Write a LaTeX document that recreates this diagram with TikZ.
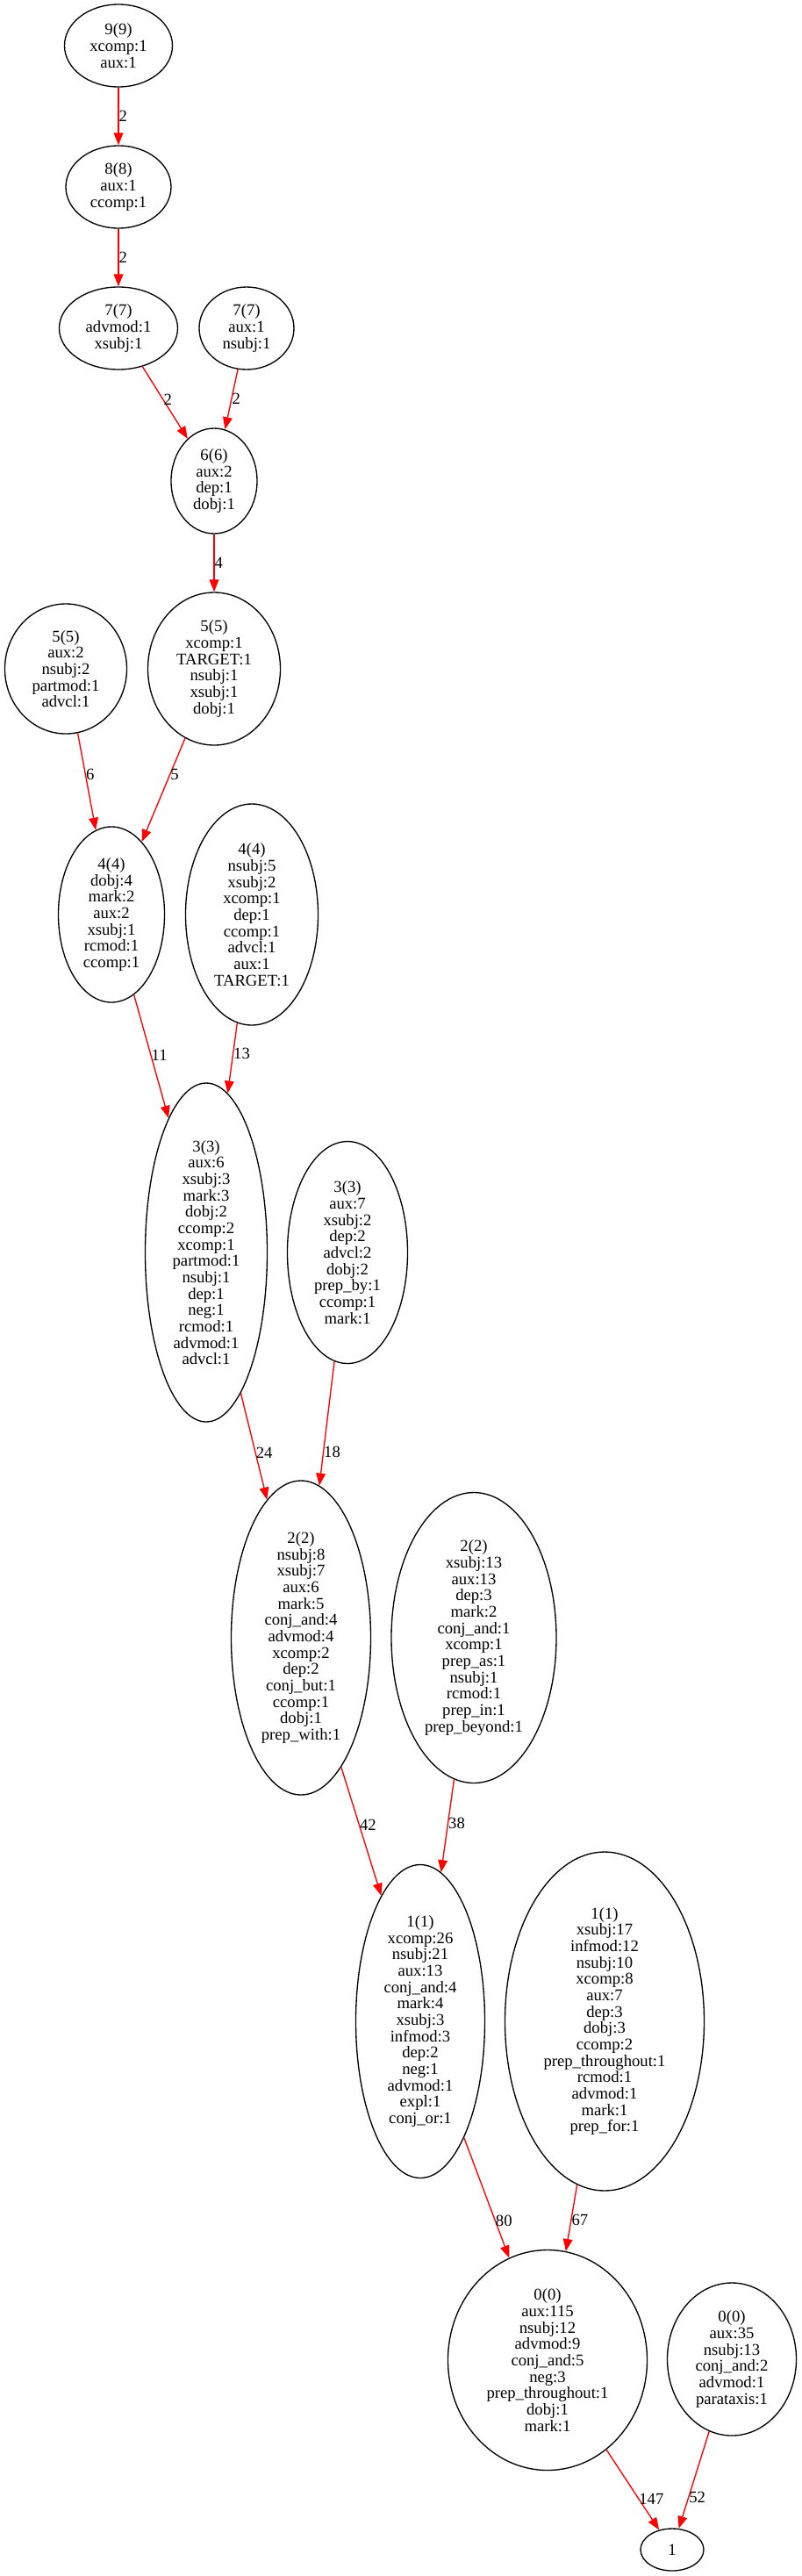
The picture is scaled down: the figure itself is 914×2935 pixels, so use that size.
\documentclass[tikz,border=0pt]{standalone}
\usepackage{fontspec}
\setmainfont{Liberation Serif}
\usetikzlibrary{shapes.geometric,arrows.meta}

\begin{document}
\begin{tikzpicture}[x=0.75pt,y=-0.75pt,
 tally/.style={draw,line width=1pt,ellipse,inner sep=0pt,align=center,font=\fontsize{14}{14}\selectfont},
 link/.style={red,line width=1pt,-{Triangle[length=10.5pt,width=8pt]}},
 wt/.style={anchor=west,inner sep=0pt,text=black,font=\fontsize{14}{14}\selectfont}]
\useasboundingbox (0,0) rectangle (914,2935);
\foreach \name/\x/\y/\w/\h/\txt in {
 n9/135/52/123/94/{9(9)\\xcomp:1\\aux:1},
 n8/135/213/120/94/{8(8)\\aux:1\\ccomp:1},
 n7a/135/374/135/94/{7(7)\\advmod:1\\xsubj:1},
 n7b/281/374/108/94/{7(7)\\aux:1\\nsubj:1},
 n6/244/548/98/120/{6(6)\\aux:2\\dep:1\\dobj:1},
 n5a/75/762/139/148/{5(5)\\aux:2\\nsubj:2\\partmod:1\\advcl:1},
 n5b/244/762/151/174/{5(5)\\xcomp:1\\TARGET:1\\nsubj:1\\xsubj:1\\dobj:1},
 n4a/127/1042/121/200/{4(4)\\dobj:4\\mark:2\\aux:2\\xsubj:1\\rcmod:1\\ccomp:1},
 n4b/287/1042/151/252/{4(4)\\nsubj:5\\xsubj:2\\xcomp:1\\dep:1\\ccomp:1\\advcl:1\\aux:1\\TARGET:1},
 n3a/235/1427/139/386/{3(3)\\aux:6\\xsubj:3\\mark:3\\dobj:2\\ccomp:2\\xcomp:1\\partmod:1\\nsubj:1\\dep:1\\neg:1\\rcmod:1\\advmod:1\\advcl:1},
 n3b/396/1427/137/253/{3(3)\\aux:7\\xsubj:2\\dep:2\\advcl:2\\dobj:2\\prep\_by:1\\ccomp:1\\mark:1},
 n2a/343/1866/159/358/{2(2)\\nsubj:8\\xsubj:7\\aux:6\\mark:5\\conj\_and:4\\advmod:4\\xcomp:2\\dep:2\\conj\_but:1\\ccomp:1\\dobj:1\\prep\_with:1},
 n2b/540/1866/188/331/{2(2)\\xsubj:13\\aux:13\\dep:3\\mark:2\\conj\_and:1\\xcomp:1\\prep\_as:1\\nsubj:1\\rcmod:1\\prep\_in:1\\prep\_beyond:1},
 n1a/479/2303/147/357/{1(1)\\xcomp:26\\nsubj:21\\aux:13\\conj\_and:4\\mark:4\\xsubj:3\\infmod:3\\dep:2\\neg:1\\advmod:1\\expl:1\\conj\_or:1},
 n1b/689/2303/227/386/{1(1)\\xsubj:17\\infmod:12\\nsubj:10\\xcomp:8\\aux:7\\dep:3\\dobj:3\\ccomp:2\\prep\_throughout:1\\rcmod:1\\advmod:1\\mark:1\\prep\_for:1},
 n0a/624/2689/227/251/{0(0)\\aux:115\\nsubj:12\\advmod:9\\conj\_and:5\\neg:3\\prep\_throughout:1\\dobj:1\\mark:1},
 n0b/834/2688/147/174/{0(0)\\aux:35\\nsubj:13\\conj\_and:2\\advmod:1\\parataxis:1},
 one/766/2905/72/48/{1}}{
 \node[tally,minimum width=\w*0.75pt,minimum height=\h*0.75pt] (\name) at (\x,\y) {\txt};
 }

% counts on the links
\foreach \a/\b/\n/\p in {n9/n8/2/0.5,n8/n7a/2/0.5,n7a/n6/2/0.46,n7b/n6/2/0.49,n6/n5b/4/0.5,
 n5a/n4a/6/0.43,n5b/n4a/5/0.35,n4a/n3a/11/0.49,n4b/n3a/13/0.44,n3a/n2a/24/0.56,n3b/n2a/18/0.73,
 n2a/n1a/42/0.45,n2b/n1a/38/0.47,n1a/n0a/80/0.69,n1b/n0a/67/0.53,n0a/one/147/0.61,n0b/one/52/0.68}{
 \draw[link] (\a) -- node[wt,pos=\p] {\n} (\b);
 }

\end{tikzpicture}
\end{document}
